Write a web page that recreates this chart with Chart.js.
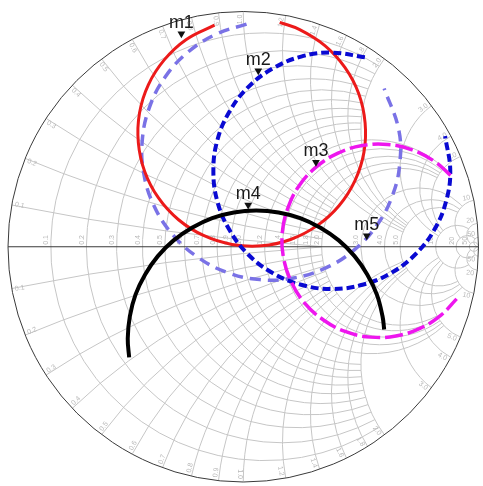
<!DOCTYPE html>
<html>
<head>
<meta charset="utf-8">
<script src="https://cdn.jsdelivr.net/npm/chart.js@4/dist/chart.umd.min.js"></script>
<style>
  html, body { margin: 0; padding: 0; background: #fff; }
  canvas { display: block; }
</style>
</head>
<body>
<canvas id="smith" width="483" height="486"></canvas>
<script>
// Traces as reflection coefficients (real part, imaginary part)
const redRe = [-0.122,-0.242,-0.335,-0.403,-0.441,-0.446,-0.419,-0.361,-0.275,-0.169,-0.048,0.078,0.201,0.314,0.407,0.475,0.513,0.518,0.491,0.432,0.347,0.240,0.155];
const redIm = [0.944,0.883,0.797,0.691,0.570,0.444,0.321,0.209,0.115,0.048,0.010,0.004,0.031,0.090,0.175,0.282,0.402,0.528,0.652,0.764,0.857,0.925,0.956];

const blueRe = [0.517,0.376,0.246,0.125,0.020,-0.059,-0.110,-0.127,-0.110,-0.059,0.020,0.125,0.246,0.376,0.507,0.628,0.732,0.812,0.862,0.880,0.858];
const blueIm = [0.807,0.827,0.810,0.759,0.679,0.575,0.454,0.324,0.193,0.072,-0.032,-0.112,-0.162,-0.180,-0.162,-0.112,-0.032,0.072,0.193,0.324,0.471];

const violetRe = [0.014,-0.114,-0.235,-0.332,-0.398,-0.429,-0.423,-0.380,-0.303,-0.197,-0.070,0.070,0.214,0.351,0.472,0.569,0.635,0.666,0.660,0.599];
const violetIm = [0.948,0.906,0.829,0.723,0.596,0.456,0.313,0.176,0.055,-0.042,-0.109,-0.140,-0.133,-0.090,-0.013,0.093,0.220,0.360,0.503,0.674];

const magentaRe = [0.881,0.814,0.718,0.613,0.506,0.403,0.312,0.239,0.190,0.166,0.171,0.204,0.261,0.341,0.436,0.541,0.649,0.751,0.842,0.907];
const magentaIm = [0.304,0.363,0.413,0.436,0.431,0.399,0.341,0.262,0.166,0.061,-0.046,-0.149,-0.240,-0.312,-0.362,-0.385,-0.380,-0.348,-0.290,-0.222];

const blackRe = [-0.485,-0.491,-0.482,-0.458,-0.417,-0.363,-0.296,-0.218,-0.132,-0.040,0.055,0.150,0.242,0.328,0.406,0.473,0.527,0.568,0.592,0.599];
const blackIm = [-0.471,-0.391,-0.296,-0.204,-0.118,-0.040,0.027,0.081,0.122,0.146,0.154,0.146,0.122,0.081,0.027,-0.040,-0.118,-0.204,-0.296,-0.352];

// Markers
const markerNames = ['m1', 'm2', 'm3', 'm4', 'm5'];
const markerRe = [-0.263, 0.064, 0.309, 0.021, 0.525];
const markerIm = [0.907, 0.750, 0.360, 0.178, 0.047];

// Smith grid: normalized values, the other-family value each line stops at, and its label
const gridValues = [0.1,0.2,0.3,0.4,0.5,0.6,0.7,0.8,0.9,1.0,1.2,1.4,1.6,1.8,2.0,3,4,5,10,20,50];
const gridLimits = [2,2,2,2,2,2,2,2,2,2,5,5,5,5,5,10,10,10,20,50,Infinity];
const gridLabels = ['0.1','0.2','0.3','0.4','0.5','0.6','0.7','0.8','0.9','1.0','1.2','1.4','1.6','1.8','2.0','3.0','4.0','5.0','10','20','50'];

const toPoints = (re, im) => re.map((v, i) => ({ x: v, y: im[i] }));

// z = r + jx  ->  reflection coefficient
function gamma(r, x) {
  const d = (r + 1) * (r + 1) + x * x;
  return [(r * r + x * x - 1) / d, (2 * x) / d];
}

const smithGrid = {
  id: 'smithGrid',
  beforeDatasetsDraw(chart) {
    const { ctx } = chart;
    const sx = chart.scales.x, sy = chart.scales.y;
    const px = v => sx.getPixelForValue(v);
    const py = v => sy.getPixelForValue(v);
    const R = (px(1) - px(-1)) / 2;
    const cx = px(0), cy = py(0);

    ctx.save();
    ctx.lineWidth = 1;
    ctx.strokeStyle = '#c6c6c6';

    // constant-resistance circles
    gridValues.forEach((r, i) => {
      const lim = gridLimits[i];
      const ccx = px(r / (1 + r)), rad = R / (1 + r);
      ctx.beginPath();
      if (!isFinite(lim)) {
        ctx.arc(ccx, cy, rad, 0, 2 * Math.PI);
      } else {
        const top = gamma(r, lim), bot = gamma(r, -lim);
        const aTop = Math.atan2(py(top[1]) - cy, px(top[0]) - ccx);
        const aBot = Math.atan2(py(bot[1]) - cy, px(bot[0]) - ccx);
        ctx.arc(ccx, cy, rad, aBot, aTop, false);
      }
      ctx.stroke();
    });

    // constant-reactance arcs
    gridValues.forEach((xv, i) => {
      const lim = gridLimits[i];
      [1, -1].forEach(s => {
        const xi = s * xv;
        const ccx = px(1), ccy = py(1 / xi), rad = R / xv;
        const p1 = gamma(0, xi);
        const p2 = isFinite(lim) ? gamma(lim, xi) : [1, 0];
        const a1 = Math.atan2(py(p1[1]) - ccy, px(p1[0]) - ccx);
        const a2 = Math.atan2(py(p2[1]) - ccy, px(p2[0]) - ccx);
        let d = a2 - a1;
        while (d < 0) d += 2 * Math.PI;
        ctx.beginPath();
        ctx.arc(ccx, ccy, rad, a1, a2, d > Math.PI);
        ctx.stroke();
      });
    });

    // real axis and outer boundary
    ctx.strokeStyle = '#3a3a3a';
    ctx.beginPath();
    ctx.moveTo(px(-1), cy);
    ctx.lineTo(px(1), cy);
    ctx.stroke();
    ctx.beginPath();
    ctx.arc(cx, cy, R, 0, 2 * Math.PI);
    ctx.stroke();

    // grid value labels
    ctx.fillStyle = '#b8b8b8';
    ctx.font = '7px "Liberation Sans", Arial, sans-serif';
    gridValues.forEach((r, i) => {
      const X = px((r - 1) / (r + 1));
      ctx.save();
      ctx.translate(X - 1, cy - 2);
      ctx.rotate(-Math.PI / 2);
      ctx.textAlign = 'left';
      ctx.textBaseline = 'bottom';
      ctx.fillText(gridLabels[i], 0, 0);
      ctx.restore();
    });
    gridValues.forEach((xv, i) => {
      [1, -1].forEach(s => {
        const p = gamma(0, s * xv);
        const X = px(p[0]), Y = py(p[1]);
        const phi = Math.atan2(Y - cy, X - cx);
        ctx.save();
        ctx.translate(cx + (R - 3) * Math.cos(phi), cy + (R - 3) * Math.sin(phi));
        ctx.textBaseline = s > 0 ? 'bottom' : 'top';
        if (Math.cos(phi) < 0) {
          ctx.rotate(phi + Math.PI);
          ctx.textAlign = 'left';
          ctx.textBaseline = s > 0 ? 'top' : 'bottom';
        } else {
          ctx.rotate(phi);
          ctx.textAlign = 'right';
        }
        ctx.fillText(gridLabels[i], 0, 0);
        ctx.restore();
      });
    });
    ctx.restore();
  },
  afterDatasetsDraw(chart) {
    const { ctx } = chart;
    const meta = chart.getDatasetMeta(0);
    ctx.save();
    ctx.fillStyle = '#1a1a1a';
    ctx.font = '18px "Liberation Sans", Arial, sans-serif';
    ctx.textAlign = 'center';
    ctx.textBaseline = 'alphabetic';
    meta.data.forEach((el, i) => {
      ctx.fillText(markerNames[i], el.x, el.y - 6);
    });
    ctx.restore();
  }
};

const traceBase = { showLine: true, pointRadius: 0, pointHoverRadius: 0, fill: false, tension: 0.4 };

new Chart(document.getElementById('smith'), {
  type: 'scatter',
  data: {
    datasets: [
      {
        label: 'markers',
        data: toPoints(markerRe, markerIm),
        showLine: false,
        pointStyle: 'triangle',
        rotation: 180,
        pointRadius: 4.5,
        backgroundColor: '#111',
        borderColor: '#111',
        borderWidth: 0
      },
      Object.assign({ label: 'black', data: toPoints(blackRe, blackIm), borderColor: '#000000', borderWidth: 4 }, traceBase),
      Object.assign({ label: 'magenta', data: toPoints(magentaRe, magentaIm), borderColor: '#ee16ee', borderWidth: 3.5, borderDash: [18, 5] }, traceBase),
      Object.assign({ label: 'blue', data: toPoints(blueRe, blueIm), borderColor: '#0a0ad2', borderWidth: 4, borderDash: [8, 4] }, traceBase),
      Object.assign({ label: 'red', data: toPoints(redRe, redIm), borderColor: '#ec1a1a', borderWidth: 3 }, traceBase),
      Object.assign({ label: 'violet', data: toPoints(violetRe, violetIm), borderColor: '#7a72e6', borderWidth: 3.5, borderDash: [11, 7] }, traceBase)
    ]
  },
  options: {
    responsive: false,
    animation: false,
    devicePixelRatio: 1,
    layout: { padding: { left: 8, right: 3, top: 12, bottom: 2 } },
    scales: {
      x: { type: 'linear', min: -1, max: 1, display: false },
      y: { type: 'linear', min: -1, max: 1, display: false }
    },
    plugins: { legend: { display: false }, tooltip: { enabled: false } }
  },
  plugins: [smithGrid]
});
</script>
</body>
</html>
